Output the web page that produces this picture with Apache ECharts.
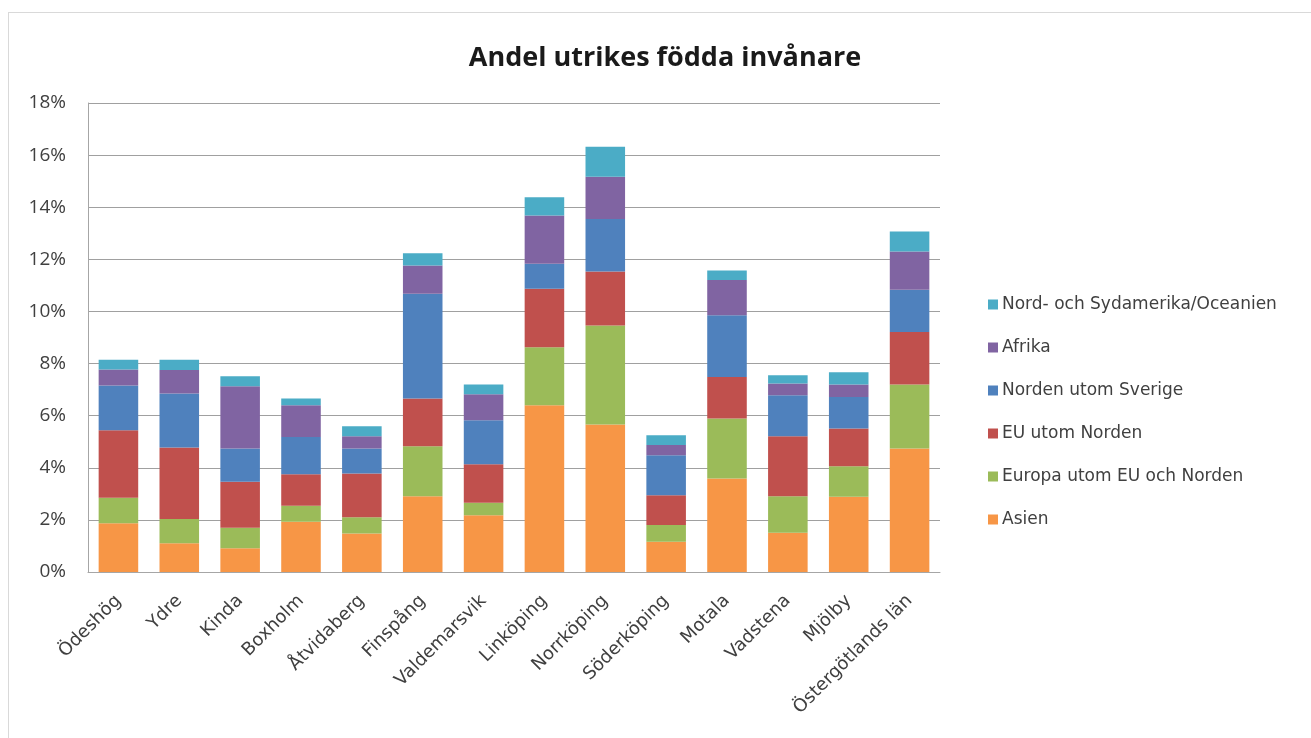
<!DOCTYPE html>
<html>
<head>
<meta charset="utf-8">
<script src="https://cdn.jsdelivr.net/npm/echarts@6/dist/echarts.min.js"></script>
<style>
  html, body { margin: 0; padding: 0; background: #ffffff; }
  #frame { position: absolute; left: 8px; top: 12px; width: 1310px; height: 730px; border-left: 1px solid #d9d9d9; border-top: 1px solid #d9d9d9; }
  #chart { width: 1311px; height: 738px; }
</style>
</head>
<body>
<div id="frame"></div>
<div id="chart" style="position:absolute;left:0;top:0;"></div>
<script>
// Share of foreign-born residents by municipality in Östergötland (percent)
const categories = ['Ödeshög', 'Ydre', 'Kinda', 'Boxholm', 'Åtvidaberg', 'Finspång', 'Valdemarsvik',
  'Linköping', 'Norrköping', 'Söderköping', 'Motala', 'Vadstena', 'Mjölby', 'Östergötlands län'];

const asien        = [1.87, 1.10, 0.91, 1.93, 1.48, 2.91, 2.18, 6.40, 5.66, 1.16, 3.59, 1.51, 2.89, 4.74];
const europaUtomEU = [0.98, 0.93, 0.79, 0.61, 0.62, 1.92, 0.48, 2.23, 3.80, 0.64, 2.30, 1.40, 1.17, 2.46];
const euUtomNorden = [2.59, 2.75, 1.76, 1.21, 1.68, 1.83, 1.48, 2.24, 2.07, 1.15, 1.59, 2.30, 1.45, 2.01];
const nordenUtomSv = [1.72, 2.07, 1.28, 1.43, 0.96, 4.02, 1.68, 0.96, 2.02, 1.53, 2.37, 1.57, 1.21, 1.62];
const afrika       = [0.61, 0.90, 2.39, 1.22, 0.47, 1.08, 1.00, 1.85, 1.62, 0.39, 1.36, 0.45, 0.48, 1.47];
const amerikaOcean = [0.38, 0.40, 0.38, 0.26, 0.38, 0.47, 0.38, 0.70, 1.15, 0.38, 0.36, 0.32, 0.47, 0.77];

const yTicks = { min: 0, max: 18, interval: 2 };

const seriesDefs = [
  { name: 'Asien', data: asien, color: '#F79646' },
  { name: 'Europa utom EU och Norden', data: europaUtomEU, color: '#9BBB59' },
  { name: 'EU utom Norden', data: euUtomNorden, color: '#C0504D' },
  { name: 'Norden utom Sverige', data: nordenUtomSv, color: '#4F81BD' },
  { name: 'Afrika', data: afrika, color: '#8064A2' },
  { name: 'Nord- och Sydamerika/Oceanien', data: amerikaOcean, color: '#4BACC6' }
];

const font = 'Open Sans, Liberation Sans, sans-serif';
const wideFont = 'DejaVu Sans, Open Sans, sans-serif';
const chart = echarts.init(document.getElementById('chart'));

chart.setOption({
  backgroundColor: 'transparent',
  animation: false,
  title: {
    text: 'Andel utrikes födda invånare',
    left: 660, top: 40, textAlign: 'center',
    textStyle: { fontFamily: font, fontSize: 27, fontWeight: 'bold', color: '#1a1a1a' }
  },
  legend: {
    orient: 'vertical',
    left: 983, top: 291,
    itemWidth: 10, itemHeight: 10, itemGap: 26,
    icon: 'rect',
    data: seriesDefs.map(s => s.name).reverse(),
    textStyle: { fontFamily: wideFont, fontSize: 17, color: '#404040', padding: [0, 0, 0, -1] }
  },
  grid: { left: 88, right: 371, top: 103, bottom: 166 },
  xAxis: {
    type: 'category',
    data: categories,
    axisLine: { lineStyle: { color: '#a6a6a6' } },
    axisTick: { show: false },
    axisLabel: { rotate: 45, fontFamily: wideFont, fontSize: 18, color: '#404040', margin: 26, interval: 0 }
  },
  yAxis: {
    type: 'value',
    min: yTicks.min, max: yTicks.max, interval: yTicks.interval,
    axisLine: { show: true, lineStyle: { color: '#a6a6a6' } },
    axisTick: { show: false },
    splitLine: { lineStyle: { color: '#a0a0a0' } },
    axisLabel: { formatter: '{value}%', fontFamily: font, fontSize: 19, color: '#404040', margin: 22 }
  },
  series: seriesDefs.map(s => ({
    name: s.name,
    type: 'bar',
    stack: 'total',
    barCategoryGap: '35%',
    data: s.data,
    itemStyle: { color: s.color }
  }))
});
</script>
</body>
</html>
